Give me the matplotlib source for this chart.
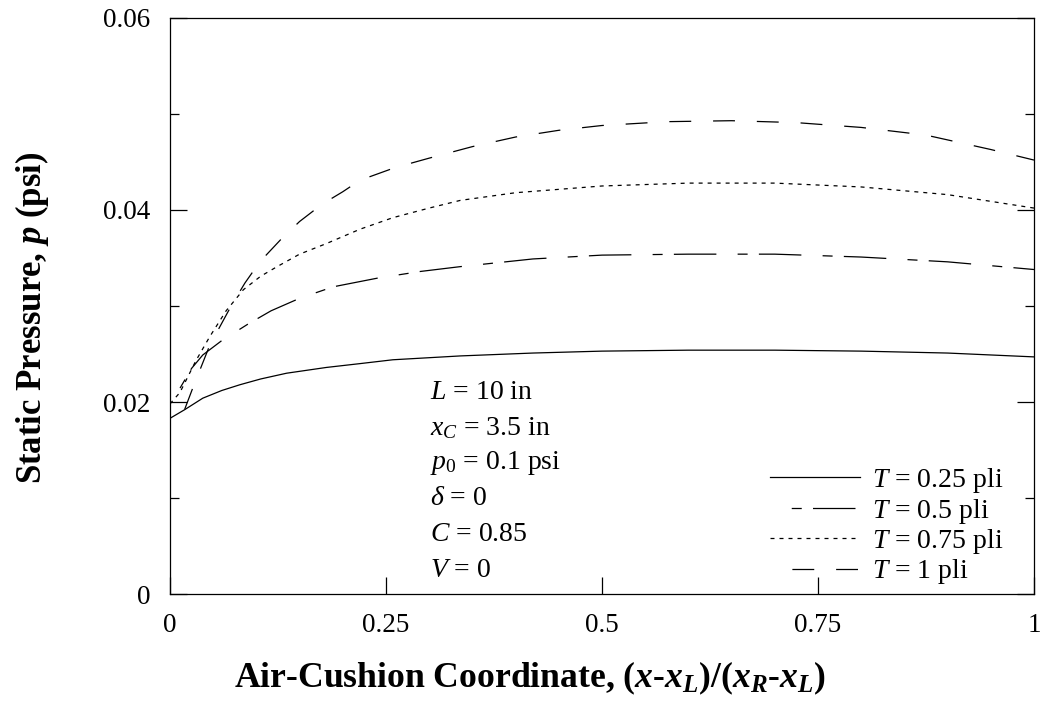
import numpy as np
import matplotlib
matplotlib.use("Agg")
import matplotlib.pyplot as plt

plt.rcParams["font.family"] = ["Liberation Serif", "DejaVu Serif"]
plt.rcParams["mathtext.fontset"] = "custom"
plt.rcParams["mathtext.rm"] = "Liberation Serif"
plt.rcParams["mathtext.it"] = "Liberation Serif:italic"
plt.rcParams["mathtext.bf"] = "Liberation Serif:bold"
plt.rcParams["mathtext.bfit"] = "Liberation Serif:bold:italic"

# values
x_025 = [0.0, 0.017, 0.038, 0.06, 0.081, 0.105, 0.135, 0.181, 0.22, 0.258, 0.336,
         0.42, 0.5, 0.6, 0.7, 0.8, 0.9, 1.0]
p_025 = [0.0183, 0.0192, 0.0204, 0.0212, 0.0218, 0.0224, 0.0230, 0.0236, 0.0240, 0.0244, 0.0248,
         0.0251, 0.0253, 0.0254, 0.0254, 0.0253, 0.0251, 0.0247]

x_05 = [0.0, 0.012, 0.025, 0.038, 0.06, 0.09, 0.117, 0.15, 0.189, 0.24, 0.29, 0.336,
        0.42, 0.5, 0.6, 0.7, 0.8, 0.9, 1.0]
p_05 = [0.0195, 0.0215, 0.0235, 0.0249, 0.0264, 0.0281, 0.0295, 0.0308, 0.0320, 0.0329, 0.0336, 0.0341,
        0.0349, 0.0353, 0.0354, 0.0354, 0.0351, 0.0346, 0.0338]

x_075 = [0.0, 0.0116, 0.03, 0.046, 0.065, 0.085, 0.105, 0.124, 0.15, 0.181, 0.22, 0.258,
         0.3, 0.336, 0.4, 0.5, 0.6, 0.7, 0.8, 0.9, 1.0]
p_075 = [0.0198, 0.0210, 0.0243, 0.0268, 0.0295, 0.0317, 0.0331, 0.0341, 0.0354, 0.0365, 0.0380, 0.0392,
         0.0402, 0.0410, 0.0418, 0.0425, 0.0428, 0.0428, 0.0424, 0.0416, 0.0402]

x_1 = [0.008, 0.027, 0.046, 0.0714, 0.0868, 0.104, 0.128, 0.15, 0.176, 0.2, 0.22, 0.26, 0.3, 0.35,
       0.4, 0.45, 0.5, 0.575, 0.65, 0.725, 0.8, 0.875, 0.95, 1.0]
p_1 = [0.0171, 0.0216, 0.0259, 0.0301, 0.0324, 0.0346, 0.0369, 0.0388, 0.0406, 0.0419, 0.0431, 0.0444,
       0.0454, 0.0466, 0.0476, 0.0483, 0.0488, 0.0492, 0.0493, 0.0491, 0.0486, 0.0478, 0.0463, 0.0452]

params = [r"$L$ = 10 in", r"$x_C$ = 3.5 in", r"$p_0$ = 0.1 psi",
          r"$\delta$ = 0", r"$C$ = 0.85", r"$V$ = 0"]
params_y = [0.0210, 0.0173, 0.01365, 0.0099, 0.00615, 0.0025]

fig = plt.figure(figsize=(10.44, 7.02), dpi=100)
ax = fig.add_axes([0.1628, 0.1538, 0.8276, 0.8206])

lw = 0.9
ax.plot(x_025, p_025, color="black", lw=lw, label=r"$T$ = 0.25 pli")
ax.plot(x_05, p_05, color="black", lw=lw, linestyle=(34, (34, 17, 8, 9)), label=r"$T$ = 0.5 pli")
ax.plot(x_075, p_075, color="black", lw=lw, linestyle=(0, (3.2, 4)), label=r"$T$ = 0.75 pli")
ax.plot(x_1, p_1, color="black", lw=lw, linestyle=(17.5, (17.5, 17.5)), label=r"$T$ = 1 pli")

ax.set_xlim(0, 1)
ax.set_ylim(0, 0.06)
ax.set_xticks([0, 0.25, 0.5, 0.75, 1])
ax.set_xticklabels(["0", "0.25", "0.5", "0.75", "1"])
ax.set_yticks([0, 0.02, 0.04, 0.06])
ax.set_yticklabels(["0", "0.02", "0.04", "0.06"])
ax.set_yticks([0.01, 0.03, 0.05], minor=True)
ax.tick_params(axis="both", which="major", direction="in", length=12, width=0.9,
               labelsize=19.5, pad=14)
ax.tick_params(axis="y", which="both", right=True)
ax.tick_params(axis="y", which="minor", direction="in", length=6.5, width=0.9)
for s in ax.spines.values():
    s.set_linewidth(0.9)

fig.text(530 / 1044, 1 - 678 / 702,
         r"Air-Cushion Coordinate, ($\mathbfit{x}$-$\mathbfit{x_L}$)/($\mathbfit{x_R}$-$\mathbfit{x_L}$)",
         fontsize=25.7, fontweight="bold", ha="center", va="center")
fig.text(32 / 1044, 1 - 318 / 702, r"Static Pressure, $\mathbfit{p}$ (psi)",
         fontsize=25, fontweight="bold", ha="center", va="center", rotation=90)

for t, yv in zip(params, params_y):
    ax.text(0.301, yv, t, fontsize=20, va="center", ha="left")

leg = ax.legend(loc="upper left", bbox_to_anchor=(0.694, 0.222), frameon=False, fontsize=20,
                handlelength=3.24, handletextpad=0.43, labelspacing=0.05,
                borderpad=0, borderaxespad=0)

fig.savefig("out.png", dpi=100)
